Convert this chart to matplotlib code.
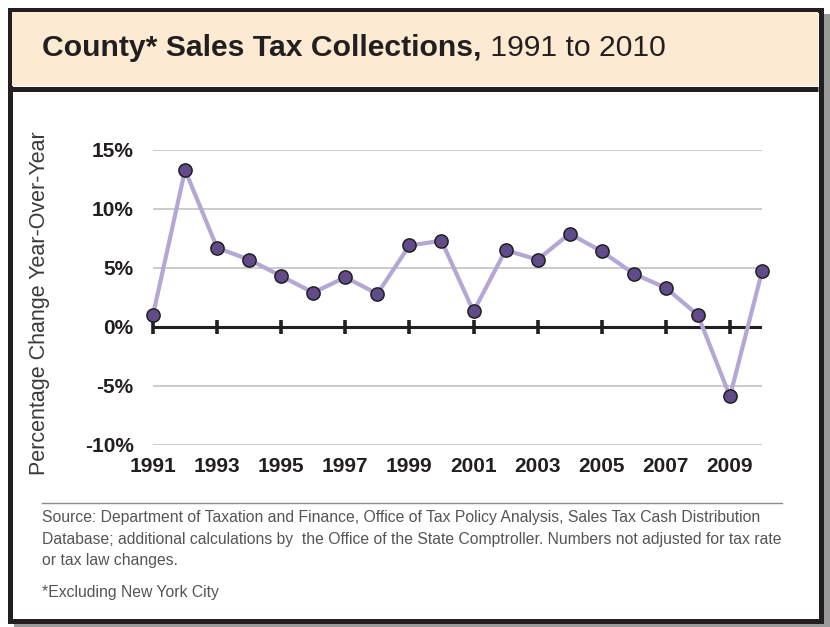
import matplotlib.pyplot as plt
from matplotlib.patches import Rectangle

plt.rcParams["font.family"] = ["Liberation Sans", "DejaVu Sans"]

# Year-over-year change in county sales tax collections (%)
years = list(range(1991, 2011))
pct_change = [1.0, 13.3, 6.7, 5.7, 4.3, 2.9, 4.2, 2.8, 6.9, 7.3,
              1.3, 6.5, 5.7, 7.9, 6.4, 4.5, 3.3, 1.0, -5.9, 4.7]
tick_years = list(range(1991, 2010, 2))
y_ticks = [15, 10, 5, 0, -5, -10]

title_bold = "County* Sales Tax Collections,"
title_rest = " 1991 to 2010"
y_label = "Percentage Change Year-Over-Year"
source_note = ("Source: Department of Taxation and Finance, Office of Tax Policy Analysis, Sales Tax Cash Distribution\n"
               "Database; additional calculations by  the Office of the State Comptroller. Numbers not adjusted for tax rate\n"
               "or tax law changes.")
nyc_note = "*Excluding New York City"

W, H = 830, 627
fig = plt.figure(figsize=(W / 100, H / 100), dpi=100)

# background frame, drawn in pixel units
bg = fig.add_axes([0, 0, 1, 1])
bg.set_xlim(0, W)
bg.set_ylim(H, 0)
bg.axis("off")
bg.add_patch(Rectangle((14, 14), 816, 613, facecolor="#9a9a9a", edgecolor="none"))
bg.add_patch(Rectangle((9.5, 9.5), 811, 611, facecolor="white", edgecolor="#231f20", lw=3.6))
bg.add_patch(Rectangle((12, 12), 806, 74, facecolor="#fcebd2", edgecolor="none"))
bg.plot([12, 818], [88.5, 88.5], color="#231f20", lw=3.6, solid_capstyle="butt")
bg.plot([42, 782], [503, 503], color="#8c8c8c", lw=1.0)

# title: bold part followed by regular part
t = bg.text(42, 48, title_bold, fontsize=21.7, fontweight="bold", color="#231f20",
            va="center", ha="left")
fig.canvas.draw()
x_end = bg.transData.inverted().transform(t.get_window_extent().p1)[0]
bg.text(x_end, 48, title_rest, fontsize=21.7, color="#231f20", va="center", ha="left")

bg.text(42, 510, source_note, fontsize=11.3, color="#555555", va="top", ha="left",
        linespacing=1.55)
bg.text(42, 592, nyc_note, fontsize=11.3, color="#555555", va="center", ha="left")
bg.text(40, 303, y_label, fontsize=15.5, color="#3a3a3a", rotation=90,
        va="center", ha="center")

# chart area
ax = fig.add_axes([153 / W, 1 - 444.7 / H, (762 - 153) / W, (444.7 - 150) / H])
ax.set_xlim(1991, 2010)
ax.set_ylim(-10, 15)
for s in ax.spines.values():
    s.set_visible(False)
for v in y_ticks:
    if v != 0:
        ax.axhline(v, color="#bdbdbd", lw=1.1, zorder=1)
ax.axhline(0, color="#231f20", lw=2.2, zorder=2)
ax.plot(tick_years, [0] * len(tick_years), ls="none", marker="|", ms=10,
        mew=2.6, color="#231f20", zorder=2, clip_on=False)

ax.plot(years, pct_change, color="#b4a7d3", lw=3, zorder=3, clip_on=False)
ax.plot(years, pct_change, ls="none", marker="o", ms=9.5, mfc="#604c8a",
        mec="#231f20", mew=1.1, zorder=4, clip_on=False)

ax.set_yticks(y_ticks)
ax.set_yticklabels([f"{v}%" for v in y_ticks], fontsize=15, fontweight="bold",
                   color="#231f20")
ax.set_xticks(tick_years)
ax.set_xticklabels([str(y) for y in tick_years], fontsize=15, fontweight="bold",
                   color="#231f20")
ax.tick_params(length=0, axis="y", pad=14)
ax.tick_params(length=0, axis="x", pad=8.5)

fig.savefig("out.png", dpi=100)
